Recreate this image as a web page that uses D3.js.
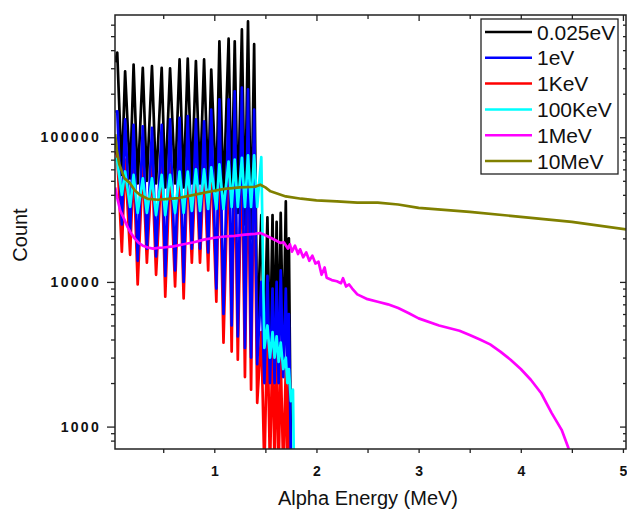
<!DOCTYPE html>
<html><head><meta charset="utf-8">
<script src="https://cdn.jsdelivr.net/npm/d3@7"></script>
<style>
html,body{margin:0;padding:0;background:#fff;}
svg{display:block;font-family:Arial,"Liberation Sans",sans-serif;}
</style></head>
<body>
<svg id="chart" width="627" height="511"></svg>
<script>
// ---------- DATA ----------
const seriesNames = ["0.025eV", "1eV", "1KeV", "100KeV", "1MeV", "10MeV"];
const seriesColors = ["#000000", "#0000ff", "#ff0000", "#00ffff", "#ff00ff", "#808000"];

// shared energy grid (MeV) for the comb-like low-energy part (peaks and dips alternate)
const energyGrid = [0.030, 0.05, 0.095, 0.127, 0.176, 0.21, 0.25, 0.30, 0.34, 0.39, 0.43, 0.485, 0.52, 0.567, 0.616, 0.66, 0.70, 0.74, 0.78, 0.82, 0.86, 0.90, 0.94, 0.97, 1.02, 1.05, 1.09, 1.14, 1.17, 1.20, 1.23, 1.27, 1.30, 1.33, 1.36, 1.39, 1.42, 1.46, 1.49, 1.52, 1.545, 1.57, 1.59, 1.61, 1.63, 1.65, 1.675, 1.70, 1.715, 1.73, 1.75];

const count0025eV = [330000, 385000, 55000, 286000, 52000, 318000, 48000, 302000, 50000, 310000, 48000, 302000, 45000, 300000, 48000, 345000, 45000, 350000, 48000, 336000, 48000, 345000, 45000, 294000, 42000, 461000, 38000, 480000, 35000, 461000, 30000, 556000, 25000, 632000, 20000, 440000, 4000, 29000, 3500, 28000, 3000, 29000, 3000, 26000, 3000, 30000, 3000, 36000, 3000, 20000, 600];

const count1eV = [150000, 151000, 25000, 133000, 22000, 122000, 14000, 119000, 17000, 116000, 15000, 122000, 11000, 133000, 12000, 136000, 10000, 140000, 17000, 133000, 17000, 129000, 16000, 155000, 9000, 183000, 6000, 183000, 5000, 208000, 4200, 220000, 3500, 214000, 3000, 155000, 2700, 10000, 2000, 11000, 2000, 9000, 2000, 10000, 2000, 12000, 2200, 9000, 2500, 6000, 600];

const count1KeV = [80000, 75000, 16200, 70000, 15400, 65000, 9600, 65000, 13600, 65000, 11200, 65000, 7900, 65000, 9300, 70000, 7700, 70000, 13600, 70000, 13600, 70000, 12000, 75000, 7300, 80000, 3800, 85000, 3300, 85000, 2900, 90000, 2200, 90000, 1800, 90000, 1460, 4500, 500, 5000, 500, 4000, 500, 3500, 500, 3000, 500, 2500, 500, 2000, 500];

const count100KeV = [72000, 68000, 40000, 58000, 33000, 55000, 30000, 52000, 30000, 52000, 29000, 55000, 29000, 55000, 30000, 58000, 30000, 58000, 31000, 60000, 31000, 60000, 32000, 62000, 32000, 65000, 32000, 68000, 33000, 70000, 33000, 72000, 33000, 75000, 33000, 75000, 33000, 73000, 3500, 5000, 3000, 4500, 3000, 4200, 2800, 3800, 2500, 3000, 2000, 2500, 1500];
const energy100KeVTail = [1.77, 1.78];
const count100KeVTail = [1800, 500];

const energy1MeV = [0.030, 0.05, 0.08, 0.12, 0.15, 0.18, 0.22, 0.26, 0.30, 0.35, 0.40, 0.45, 0.50, 0.60, 0.70, 0.80, 0.90, 1.00, 1.10, 1.20, 1.30, 1.40, 1.45, 1.50, 1.55, 1.60, 1.65, 1.68, 1.72, 1.74, 1.76, 1.79, 1.82, 1.84, 1.87, 1.90, 1.93, 1.96, 1.99, 2.02, 2.05, 2.08, 2.10, 2.15, 2.20, 2.24, 2.26, 2.29, 2.32, 2.35, 2.40, 2.50, 2.60, 2.70, 2.80, 2.90, 3.00, 3.20, 3.40, 3.50, 3.60, 3.70, 3.80, 3.90, 4.00, 4.10, 4.20, 4.30, 4.40, 4.47];
const count1MeV = [45000, 38000, 31000, 27000, 24000, 22000, 20000, 18600, 17800, 17300, 17000, 17200, 17300, 17600, 18200, 18800, 19600, 20200, 20600, 20800, 21200, 21500, 21800, 21000, 20200, 19400, 18600, 18800, 17000, 18200, 16200, 17800, 15600, 16800, 14800, 16000, 14000, 15200, 13400, 13800, 11200, 12600, 10700, 10300, 10100, 9800, 10600, 9300, 9600, 9000, 8200, 7600, 7300, 7000, 6600, 6100, 5600, 5000, 4600, 4300, 4000, 3700, 3300, 2900, 2500, 2100, 1700, 1250, 950, 700];

const energy10MeV = [0.030, 0.045, 0.07, 0.12, 0.17, 0.22, 0.27, 0.35, 0.45, 0.55, 0.65, 0.80, 0.95, 1.10, 1.25, 1.40, 1.45, 1.50, 1.55, 1.70, 1.85, 2.00, 2.20, 2.40, 2.60, 2.80, 3.00, 3.50, 4.00, 4.50, 5.05];
const count10MeV = [105000, 82000, 65000, 52000, 48600, 43000, 40000, 37500, 37000, 37500, 38000, 40000, 42000, 44000, 45000, 45500, 47000, 45000, 42300, 39000, 37600, 36600, 36000, 35300, 35300, 34300, 32500, 30500, 28200, 26000, 23000];

const xMajorTicks = [1, 2, 3, 4, 5];
const xMinorTicks = [0.5, 1.5, 2.5, 3.5, 4.5];
const yMajorTicks = [1000, 10000, 100000];
const yMinorTicks = [800, 900, 2000, 3000, 4000, 5000, 6000, 7000, 8000, 9000, 20000, 30000, 40000, 50000, 60000, 70000, 80000, 90000, 200000, 300000, 400000, 500000, 600000];

// ---------- BUILD ----------
const zip = (xs, ys) => xs.map((e, i) => ({e: e, c: ys[i]}));
const series = [
  zip(energyGrid, count0025eV),
  zip(energyGrid, count1eV),
  zip(energyGrid, count1KeV),
  zip(energyGrid.concat(energy100KeVTail), count100KeV.concat(count100KeVTail)),
  zip(energy1MeV, count1MeV),
  zip(energy10MeV, count10MeV)
];
const drawOrder = [0, 2, 1, 3, 4, 5];

const L = 115, R = 626, T = 15, B = 449;
const svg = d3.select("#chart");
const x = d3.scaleLinear().domain([0.028, 5.03]).range([L, R]);
const y = d3.scaleLog().domain([700, 700000]).range([B, T]);

svg.append("defs").append("clipPath").attr("id", "clip")
  .append("rect").attr("x", L).attr("y", T).attr("width", R - L).attr("height", B - T);

const line = d3.line().x(d => x(d.e)).y(d => y(d.c));
const g = svg.append("g").attr("clip-path", "url(#clip)");
drawOrder.forEach(i => {
  g.append("path").datum(series[i]).attr("d", line)
    .attr("fill", "none").attr("stroke", seriesColors[i])
    .attr("stroke-width", 2.7).attr("stroke-linejoin", "round");
});

// axes
const axColor = "#222";
function styleAxis(sel) {
  sel.select(".domain").remove();
  sel.selectAll("line").attr("stroke", axColor).attr("stroke-width", 1.3);
  sel.selectAll("text").attr("fill", "#111");
}
svg.append("g").attr("transform", `translate(0,${B})`)
  .call(d3.axisBottom(x).tickValues(xMajorTicks).tickSize(4).tickPadding(13).tickFormat(d3.format("d")))
  .call(styleAxis)
  .selectAll("text").attr("font-size", 14).attr("font-weight", "bold");
svg.append("g").attr("transform", `translate(0,${B})`)
  .call(d3.axisBottom(x).tickValues(xMinorTicks).tickSize(4).tickFormat(""))
  .call(styleAxis);
svg.append("g").attr("transform", `translate(0,${T})`)
  .call(d3.axisBottom(x).tickValues(xMajorTicks).tickSize(6).tickFormat(""))
  .call(styleAxis);
svg.append("g").attr("transform", `translate(0,${T})`)
  .call(d3.axisBottom(x).tickValues(xMinorTicks).tickSize(4).tickFormat(""))
  .call(styleAxis);
svg.append("g").attr("transform", `translate(${L},0)`)
  .call(d3.axisLeft(y).tickValues(yMajorTicks).tickSize(8).tickPadding(6).tickFormat(d => String(d)))
  .call(styleAxis)
  .selectAll("text").attr("font-size", 14).attr("font-weight", "bold").attr("letter-spacing", "2.3px");
svg.append("g").attr("transform", `translate(${L},0)`)
  .call(d3.axisLeft(y).tickValues(yMinorTicks).tickSize(4).tickFormat(""))
  .call(styleAxis);
svg.append("g").attr("transform", `translate(${R},0)`)
  .call(d3.axisLeft(y).tickValues(yMajorTicks).tickSize(6).tickFormat(""))
  .call(styleAxis);
svg.append("g").attr("transform", `translate(${R},0)`)
  .call(d3.axisLeft(y).tickValues(yMinorTicks).tickSize(3).tickFormat(""))
  .call(styleAxis);

svg.append("rect").attr("x", L).attr("y", T).attr("width", R - L).attr("height", B - T)
  .attr("fill", "none").attr("stroke", axColor).attr("stroke-width", 1.5);

svg.append("text").attr("x", 368).attr("y", 505).attr("text-anchor", "middle")
  .attr("font-size", 20).attr("fill", "#111").text("Alpha Energy (MeV)");
svg.append("text").attr("transform", "translate(27,235) rotate(-90)").attr("text-anchor", "middle")
  .attr("font-size", 20).attr("fill", "#111").text("Count");

const lg = svg.append("g");
lg.append("rect").attr("x", 481).attr("y", 19).attr("width", 137).attr("height", 155)
  .attr("fill", "#fff").attr("stroke", axColor).attr("stroke-width", 1.3);
seriesNames.forEach((n, i) => {
  const yy = 32 + i * 25.8;
  lg.append("line").attr("x1", 485).attr("x2", 532).attr("y1", yy).attr("y2", yy)
    .attr("stroke", seriesColors[i]).attr("stroke-width", 2.5);
  lg.append("text").attr("x", 537).attr("y", yy + 7.5).attr("font-size", 21)
    .attr("fill", "#111").text(n);
});
</script>
</body></html>
